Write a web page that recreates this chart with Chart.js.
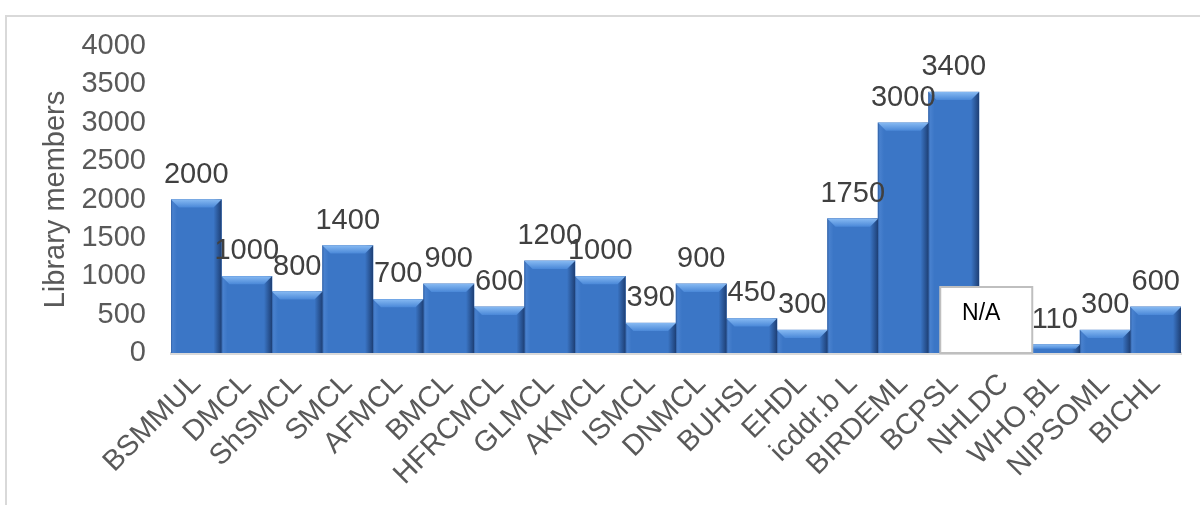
<!DOCTYPE html>
<html lang="en">
<head>
    <meta charset="UTF-8">
    <title>Library members</title>
    <script src="https://cdn.jsdelivr.net/npm/chart.js"></script>
    <style>
        body { margin: 0; background: #fff; }
        #frame { position: absolute; left: 5px; top: 15px; width: 1300px; height: 600px;
                 border: 2px solid #d9d9d9; box-sizing: border-box; }
        #wrap { position: absolute; left: 0; top: 0; width: 1200px; height: 505px; }
    </style>
</head>
<body>
    <div id="frame"></div>
    <div id="wrap">
        <canvas id="myChart" width="1200" height="505"></canvas>
    </div>

<script>
    // categories and values (NHLDC has no value -> N/A box)
    var v_labels = ["BSMMUL","DMCL","ShSMCL","SMCL","AFMCL","BMCL","HFRCMCL","GLMCL","AKMCL","ISMCL",
                    "DNMCL","BUHSL","EHDL","icddr.b L","BIRDEML","BCPSL","NHLDC","WHO,BL","NIPSOML","BICHL"];
    var v_members = [2000,1000,800,1400,700,900,600,1200,1000,390,
                     900,450,300,1750,3000,3400,null,110,300,600];
    var v_yTicks = [0,500,1000,1500,2000,2500,3000,3500,4000];
    var v_naIndex = 16;
    var v_naText = "N/A";
    var v_naHeight = 860;   // box height in axis units

    var v_font = "'Liberation Sans', Arial, sans-serif";

    // bevel look of the excel bars
    const bevelPlugin = {
        id: "bevel",
        afterDatasetsDraw(chart){
            const ctx = chart.ctx;
            const meta = chart.getDatasetMeta(0);
            meta.data.forEach(function(bar, i){
                if(v_members[i] == null) return;
                const l = bar.x - bar.width/2, r = bar.x + bar.width/2;
                const t = bar.y, b = bar.base;
                const bv = Math.min(8, (b - t)/2);
                ctx.save();
                // right shade
                let g = ctx.createLinearGradient(r - 8, 0, r, 0);
                g.addColorStop(0, "rgba(20,45,90,0)");
                g.addColorStop(1, "rgba(20,45,90,0.75)");
                ctx.fillStyle = g;
                ctx.fillRect(r - 8, t, 8, b - t);
                // left light
                g = ctx.createLinearGradient(l, 0, l + 6, 0);
                g.addColorStop(0, "rgba(30,60,110,0.45)");
                g.addColorStop(0.3, "rgba(110,160,230,0.25)");
                g.addColorStop(1, "rgba(110,160,230,0)");
                ctx.fillStyle = g;
                ctx.fillRect(l, t, 6, b - t);
                // top bevel
                g = ctx.createLinearGradient(0, t, 0, t + bv);
                g.addColorStop(0, "#86b9f2");
                g.addColorStop(1, "#4a88d8");
                ctx.fillStyle = g;
                ctx.beginPath();
                ctx.moveTo(l, t);
                ctx.lineTo(r, t);
                ctx.lineTo(r - bv, t + bv);
                ctx.lineTo(l + bv, t + bv);
                ctx.closePath();
                ctx.fill();
                ctx.restore();
            });
        }
    };

    // value labels above bars + N/A box
    const labelPlugin = {
        id: "valueLabels",
        afterDraw(chart){
            const ctx = chart.ctx;
            const meta = chart.getDatasetMeta(0);
            const xs = chart.scales.x, ys = chart.scales.y;
            ctx.save();
            // N/A box
            const cx = xs.getPixelForValue(v_naIndex);
            const y0 = ys.getPixelForValue(0), y1 = ys.getPixelForValue(v_naHeight);
            ctx.fillStyle = "#ffffff";
            ctx.strokeStyle = "#bfbfbf";
            ctx.lineWidth = 2;
            ctx.fillRect(cx - 64, y1, 92, y0 - y1);
            ctx.strokeRect(cx - 64, y1, 92, y0 - y1);
            ctx.fillStyle = "#000000";
            ctx.font = "23px " + v_font;
            ctx.textAlign = "center";
            ctx.textBaseline = "middle";
            ctx.fillText(v_naText, cx - 23, y1 + 27);

            ctx.font = "29px " + v_font;
            ctx.fillStyle = "#404040";
            ctx.textBaseline = "alphabetic";
            meta.data.forEach(function(bar, i){
                if(v_members[i] == null) return;
                ctx.fillText(String(v_members[i]), bar.x, bar.y - 17);
            });
            ctx.restore();
        }
    };

    const ctx = document.getElementById('myChart').getContext('2d');
    const myChart = new Chart(ctx, {
        type: 'bar',
        data: {
            labels: v_labels,
            datasets: [{
                label: 'Library members',
                data: v_members,
                backgroundColor: '#3b76c6',
                borderWidth: 0,
                categoryPercentage: 1.0,
                barPercentage: 1.0
            }]
        },
        options: {
            responsive: false,
            animation: false,
            events: [],
            layout: { padding: { left: 33, top: 46, right: 19, bottom: 0 } },
            plugins: {
                legend: { display: false },
                tooltip: { enabled: false }
            },
            scales: {
                x: {
                    grid: { display: false, drawTicks: false },
                    border: { display: true, color: '#d9d9d9', width: 3 },
                    ticks: {
                        color: '#595959',
                        font: { family: v_font, size: 29 },
                        minRotation: 45, maxRotation: 45,
                        autoSkip: false,
                        padding: 14
                    },
                    // rotated first label may hang into the y axis area
                    afterFit(axis){ axis.paddingLeft = 0; axis.paddingRight = 0; axis.height = 152; }
                },
                y: {
                    min: 0, max: 4000,
                    afterBuildTicks(axis){
                        axis.ticks = v_yTicks.map(function(v){ return { value: v }; });
                    },
                    afterFit(axis){ axis.width = 138; },
                    grid: { display: false, drawTicks: false },
                    border: { display: false },
                    ticks: {
                        color: '#595959',
                        font: { family: v_font, size: 29 },
                        padding: 25,
                        autoSkip: false,
                        callback: function(v){ return String(v); }
                    },
                    title: {
                        display: true,
                        text: 'Library members',
                        color: '#595959',
                        font: { family: v_font, size: 29 },
                        padding: { top: 6, bottom: 8 }
                    }
                }
            }
        },
        plugins: [bevelPlugin, labelPlugin]
    });
</script>
</body>
</html>
